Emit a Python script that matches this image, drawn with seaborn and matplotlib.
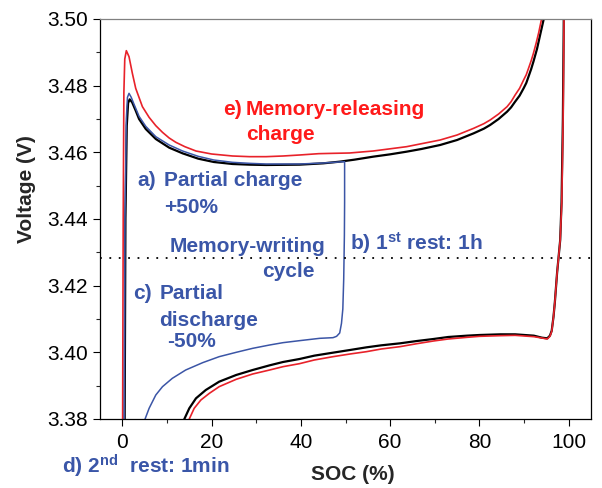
import numpy as np
import pandas as pd
import matplotlib
matplotlib.use("Agg")
import matplotlib.pyplot as plt
import seaborn as sns

# ---------------- data ----------------
# full charge (black)
black_chg_soc = [0.5, 0.7, 1.0, 1.3, 1.65, 2.2, 3.0, 3.75, 5.25, 7.5, 10.5, 13.5, 17.0, 20.5,
                 24.7, 28.5, 32.2, 39.7, 45.0, 48.7, 52.0, 56.2, 60.0, 63.7, 67.0, 71.2,
                 75.0, 78.7, 81.0, 82.4, 84.3, 86.2, 87.1, 88.0, 89.0, 89.9, 90.5, 91.0,
                 91.6, 92.1, 92.9, 93.6, 94.5, 95.0]
black_chg_v = [3.370, 3.440, 3.468, 3.4748, 3.4759, 3.4750, 3.4725, 3.4700, 3.4670, 3.4640,
               3.4614, 3.4597, 3.4581, 3.4571, 3.4565, 3.4563, 3.4562, 3.4563, 3.4567,
               3.4572, 3.4578, 3.4587, 3.4594, 3.4602, 3.4610, 3.4622, 3.4637, 3.4657,
               3.4671, 3.4682, 3.4700, 3.4722, 3.4735, 3.4752, 3.4770, 3.4792, 3.4808,
               3.4827, 3.4850, 3.4872, 3.4910, 3.4952, 3.5005, 3.505]

# full discharge (black)
black_dis_soc = [99.0, 98.9, 98.7, 98.4, 98.1, 97.4, 96.9, 96.6, 96.2, 95.8, 95.2, 94.0, 92.2,
                 88.0, 84.7, 80.0, 77.2, 73.0, 69.7, 66.0, 62.2, 58.0, 54.7, 51.0, 47.2,
                 43.0, 39.7, 36.0, 33.0, 29.2, 25.5, 21.7, 18.7, 16.5, 15.0, 13.9, 13.5]
black_dis_v = [3.505, 3.500, 3.470, 3.445, 3.4337, 3.4238, 3.4150, 3.4107, 3.4065, 3.4050,
               3.4042, 3.4044, 3.4050, 3.4054, 3.4054, 3.4052, 3.4050, 3.4046, 3.4040,
               3.4034, 3.4027, 3.4021, 3.4015, 3.4007, 3.3999, 3.3990, 3.3980, 3.3971,
               3.3961, 3.3947, 3.3932, 3.3912, 3.3887, 3.3862, 3.3832, 3.3800, 3.3780]

# memory-releasing charge (red)
red_chg_soc = [0.05, 0.2, 0.35, 0.55, 0.9, 1.5, 2.25, 3.0, 4.5, 6.0, 7.5, 9.0, 10.5, 12.0,
               14.0, 16.5, 20.0, 24.7, 28.5, 32.2, 36.0, 39.7, 44.0, 47.2, 50.9, 56.2,
               63.7, 71.2, 75.0, 78.7, 81.0, 82.4, 84.3, 86.2, 87.1, 88.0, 89.0, 89.9,
               90.5, 91.0, 91.6, 92.1, 92.7, 93.3, 94.0, 94.5]
red_chg_v = [3.370, 3.440, 3.478, 3.488, 3.4905, 3.4887, 3.4837, 3.4792, 3.4737, 3.4705,
             3.4680, 3.4660, 3.4643, 3.4630, 3.4617, 3.4604, 3.4595, 3.4589, 3.4587,
             3.4587, 3.4589, 3.4592, 3.4596, 3.4597, 3.4598, 3.4604, 3.4617, 3.4637,
             3.4652, 3.4672, 3.4686, 3.4697, 3.4715, 3.4737, 3.4752, 3.4772, 3.4792,
             3.4817, 3.4833, 3.4852, 3.4875, 3.4897, 3.4927, 3.4960, 3.5005, 3.505]

# subsequent discharge (red)
red_dis_soc = [99.05, 98.95, 98.75, 98.45, 98.1, 97.4, 96.9, 96.6, 96.2, 95.8, 95.2, 94.0,
               92.2, 88.0, 84.7, 80.0, 77.2, 73.0, 69.7, 66.0, 62.2, 58.0, 54.7, 51.0, 47.2,
               43.0, 39.7, 36.0, 33.0, 29.2, 25.5, 21.7, 19.5, 17.6, 16.1, 15.0, 14.6]
red_dis_v = [3.505, 3.500, 3.470, 3.445, 3.4337, 3.4238, 3.4150, 3.4107, 3.4063, 3.4048,
             3.4040, 3.4043, 3.4047, 3.4051, 3.4050, 3.4048, 3.4045, 3.4040, 3.4034,
             3.4026, 3.4017, 3.4010, 3.4002, 3.3995, 3.3987, 3.3977, 3.3966, 3.3957,
             3.3947, 3.3935, 3.3919, 3.3897, 3.3877, 3.3857, 3.3832, 3.3800, 3.3780]

# memory-writing cycle (blue): partial charge, 1st rest, partial discharge
blue_soc = [0.4, 0.6, 0.9, 1.15, 1.5, 2.0, 2.6, 3.75, 5.25, 7.5, 10.5, 13.5, 17.0, 20.5,
            24.7, 28.5, 32.2, 39.7, 45.0, 49.8, 49.8, 49.75, 49.6, 49.4, 49.1, 48.7, 48.0,
            47.2, 44.2, 39.7, 36.0, 33.0, 29.2, 25.5, 21.7, 18.0, 14.2, 11.2, 9.0, 7.5,
            6.0, 5.1, 4.6]
blue_v = [3.370, 3.440, 3.470, 3.4765, 3.4777, 3.4765, 3.4745, 3.4708, 3.4678, 3.4647,
          3.4622, 3.4604, 3.4588, 3.4577, 3.4570, 3.4567, 3.4565, 3.4565, 3.4568, 3.4572,
          3.4450, 3.4350, 3.4220, 3.4130, 3.4087, 3.4058, 3.4048, 3.4044, 3.4042, 3.4035,
          3.4029, 3.4022, 3.4012, 3.4000, 3.3987, 3.3969, 3.3947, 3.3922, 3.3897, 3.3872,
          3.3832, 3.3800, 3.3770]

rest_voltage = 3.4284

x_ticks = [0, 20, 40, 60, 80, 100]
y_ticks = [3.38, 3.40, 3.42, 3.44, 3.46, 3.48, 3.50]

# ---------------- styling ----------------
sns.set_theme(style="ticks")
plt.rcParams['font.family'] = ['Liberation Sans', 'DejaVu Sans']
plt.rcParams['mathtext.fontset'] = 'custom'
plt.rcParams['mathtext.rm'] = 'Liberation Sans'
plt.rcParams['mathtext.bf'] = 'Liberation Sans:bold'
plt.rcParams['mathtext.it'] = 'Liberation Sans:italic'

RED_LINE = "#e8222a"
RED_TEXT = "#ff1a1a"
BLUE_LINE = "#3b55a6"
BLUE_TEXT = "#3a56a8"

fig = plt.figure(figsize=(6.02, 4.88), dpi=100)
ax = fig.add_axes([100/602, 1-419/488, 491/602, 400/488])

sns.lineplot(x=black_chg_soc, y=black_chg_v, sort=False, estimator=None, color="black", lw=1.6, ax=ax)
sns.lineplot(x=black_dis_soc, y=black_dis_v, sort=False, estimator=None, color="black", lw=1.6, ax=ax)
sns.lineplot(x=red_chg_soc, y=red_chg_v, sort=False, estimator=None, color=RED_LINE, lw=1.2, ax=ax)
sns.lineplot(x=red_dis_soc, y=red_dis_v, sort=False, estimator=None, color=RED_LINE, lw=1.2, ax=ax)
sns.lineplot(x=blue_soc, y=blue_v, sort=False, estimator=None, color=BLUE_LINE, lw=1.1, ax=ax)
ax.axhline(rest_voltage, color="black", lw=1.3, linestyle=(0, (1, 4.2)))

ax.set_xlim(-5, 105)
ax.set_ylim(3.38, 3.50)
ax.set_xticks(x_ticks)
ax.set_xticklabels([str(t) for t in x_ticks])
ax.set_yticks(y_ticks)
ax.set_yticklabels([f"{t:.2f}" for t in y_ticks])
ax.set_xticks(np.arange(0, 105, 10), minor=True)
ax.set_yticks(np.arange(3.39, 3.50, 0.02), minor=True)
ax.tick_params(axis="both", which="major", direction="out", length=5, width=0.8,
               labelsize=15, colors="black", top=False, right=False)
ax.tick_params(axis="x", which="major", pad=5)
ax.tick_params(axis="y", which="major", pad=4)
ax.tick_params(axis="both", which="minor", direction="out", length=3, width=0.8,
               top=False, right=False)
for s in ["left", "bottom", "right"]:
    ax.spines[s].set_color("black")
    ax.spines[s].set_linewidth(0.9)
ax.spines["top"].set_color("#808080")
ax.spines["top"].set_linewidth(0.9)

ax.set_xlabel("SOC (%)", fontsize=15, fontweight="bold")
ax.set_ylabel("Voltage (V)", fontsize=15, fontweight="bold")
ax.xaxis.set_label_coords(0.515, -0.115)
ax.yaxis.set_label_coords(-0.13, 0.575)

def txt(x, y, s, color, size=15):
    ax.text(x, y, s, color=color, fontsize=size, fontweight="bold", va="baseline", ha="left")

# red annotation
txt(22.6, 3.4712, "e)", RED_TEXT)
txt(27.7, 3.4712, "Memory-releasing", RED_TEXT)
txt(27.7, 3.4637, "charge", RED_TEXT)

# blue annotations
txt(3.37, 3.4499, "a)", BLUE_TEXT)
txt(9.37, 3.4499, "Partial charge", BLUE_TEXT)
txt(9.37, 3.4419, "+50%", BLUE_TEXT)
txt(10.49, 3.4302, "Memory-writing", BLUE_TEXT)
txt(31.4, 3.4226, "cycle", BLUE_TEXT)
txt(51.1, 3.4309, r"b) 1$^{\mathbf{st}}$ rest: 1h", BLUE_TEXT)
txt(2.4, 3.4159, "c)", BLUE_TEXT)
txt(8.4, 3.4159, "Partial", BLUE_TEXT)
txt(8.25, 3.4079, "discharge", BLUE_TEXT)
txt(10.1, 3.4017, "-50%", BLUE_TEXT)
txt(-13.6, 3.3636, r"d) 2$^{\mathbf{nd}}$  rest: 1min", BLUE_TEXT)

fig.savefig("out.png", dpi=100)
